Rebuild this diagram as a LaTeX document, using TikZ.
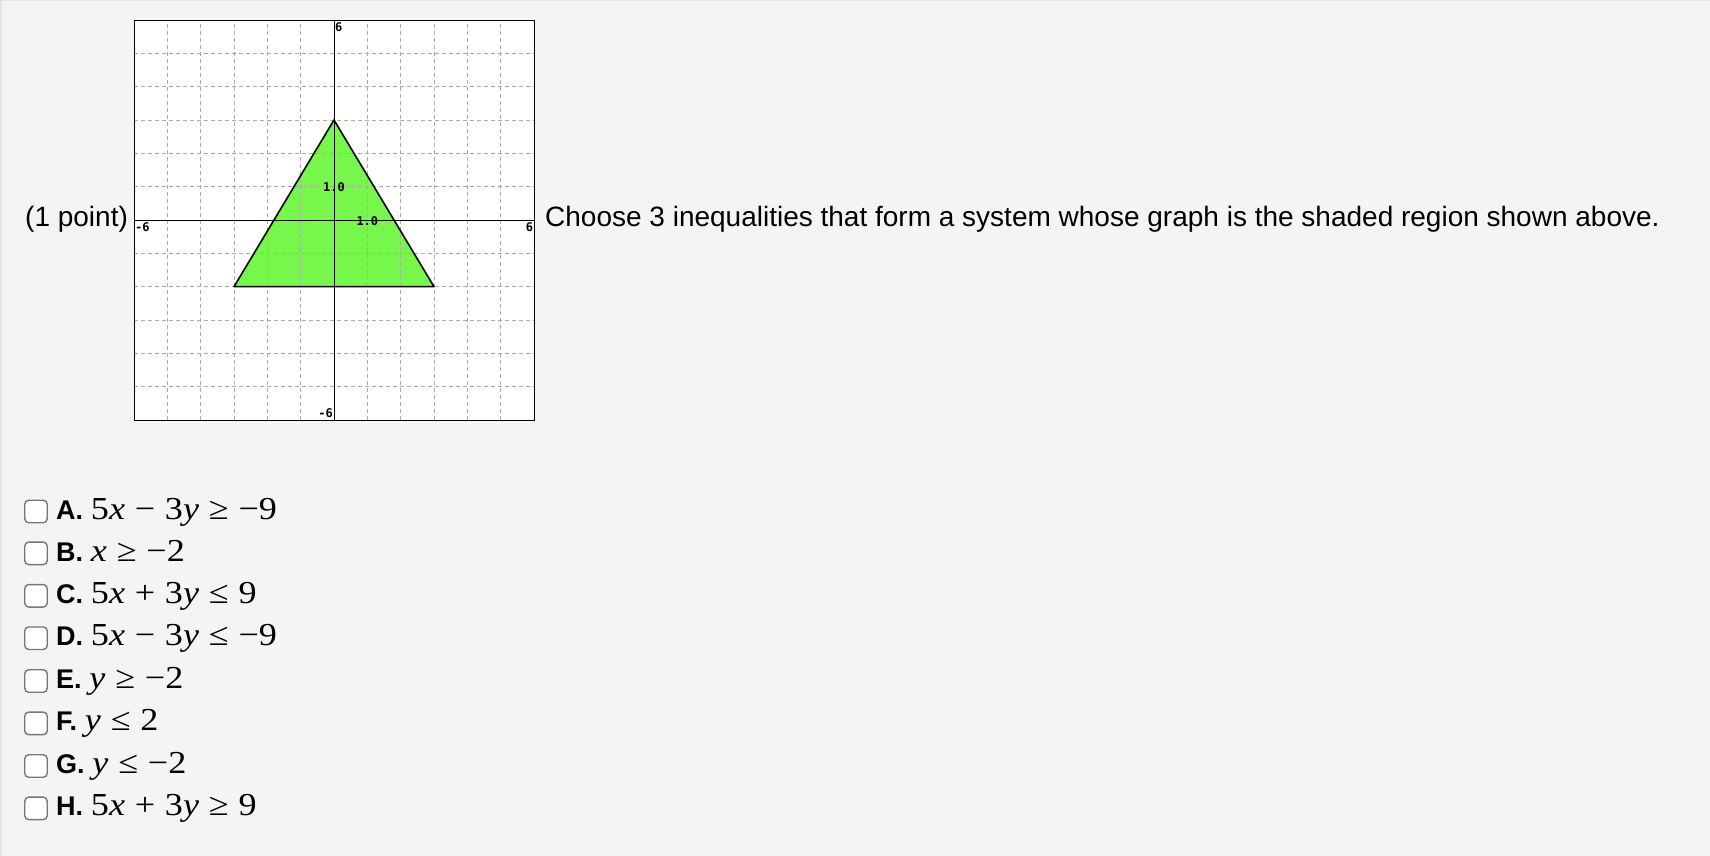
\documentclass[tikz,border=0pt]{standalone}
\usepackage{fontspec}
\usepackage{graphicx}
\setmainfont{Liberation Sans}
\setmonofont{DejaVu Sans Mono}
\newfontfamily\mser{Liberation Serif}
\definecolor{bgc}{HTML}{F4F4F4}
\definecolor{bordc}{HTML}{E4E4E4}
\definecolor{trig}{HTML}{77F74B}
\definecolor{gridc}{HTML}{AAAAAA}
\definecolor{boxc}{HTML}{767676}
\newcommand\lbl[1]{{\fontsize{27pt}{30pt}\selectfont\bfseries #1}}
\newcommand\fm[1]{\scalebox{1.13}[1]{\fontsize{32pt}{35pt}\selectfont\mser #1}}
\newcommand\vx{\textit{x}}
\newcommand\vy{\textit{y}}
\newcommand\mybop[1]{\hspace{0.27em}#1\hspace{0.27em}}
\newcommand\myrel[1]{\hspace{0.27em}#1\hspace{0.27em}}
\tikzset{
  chk/.style={draw=boxc, line width=1.4pt, rounded corners=4pt, fill=white, minimum size=22.5pt, inner sep=0pt},
  choice/.style={anchor=base west, inner sep=0pt, font=\fontsize{28pt}{32pt}\selectfont},
  bigtxt/.style={anchor=base west, inner sep=0pt, font=\fontsize{28pt}{32pt}\selectfont},
  glab/.style={inner sep=0pt, font=\fontsize{12pt}{12pt}\selectfont\ttfamily\bfseries},
  gridl/.style={gridc, line width=1pt, dash pattern=on 4pt off 3pt},
  axisl/.style={black, line width=1pt},
  triline/.style={black, line width=1.6pt, line join=round},
}
\begin{document}
\begin{tikzpicture}[x=1pt,y=-1pt]
\useasboundingbox (0,0) rectangle (1710,856);
\fill[bgc] (0,0) rectangle (1710,856);
\draw[bordc, line width=1.5pt] (0,0.75) -- (1710,0.75);
\draw[bordc, line width=1.5pt] (0.75,0) -- (0.75,856);

% graph
\begin{scope}[shift={(334,220)}, x=33.333pt, y=33.333pt]
  \fill[white] (-6,-6) rectangle (6,6);
  \fill[trig] (-3,-2) -- (0,3) -- (3,-2) -- cycle;
  \foreach \k in {-5,-4,-3,-2,-1,1,2,3,4,5} {
    \draw[gridl] (\k,-6) -- (\k,6);
    \draw[gridl] (-6,\k) -- (6,\k);
  }
  \draw[axisl] (-6,0) -- (6,0);
  \draw[axisl] (0,-6) -- (0,6);
  \draw[triline] (-3,-2) -- (0,3) -- (3,-2) -- cycle;
  \draw[black, line width=1pt] (-6,-6) rectangle (6,6);
  \node[glab, anchor=base west] (ytop) at (0.03,5.67) {6};
  \node[glab, anchor=base west] (xleft) at (-5.97,-0.33) {-6};
  \node[glab, anchor=base east] (xright) at (5.98,-0.33) {6};
  \node[glab, anchor=base east] (ybot) at (-0.03,-5.91) {-6};
  \node[glab, anchor=base] (yone) at (0,0.87) {1.0};
  \node[glab, anchor=base] (xone) at (1,-0.15) {1.0};
\end{scope}

\node[bigtxt] (pt) at (25,226) {(1 point)};
\node[bigtxt] (q) at (545,226) {Choose 3 inequalities that form a system whose graph is the shaded region shown above.};

% choices
\node[chk] (bA) at (36,511.5) {};
\node[chk] (bB) at (36,553.4) {};
\node[chk] (bC) at (36,595.8) {};
\node[chk] (bD) at (36,638.2) {};
\node[chk] (bE) at (36,681) {};
\node[chk] (bF) at (36,723.4) {};
\node[chk] (bG) at (36,766) {};
\node[chk] (bH) at (36,808.4) {};

\node[choice] (cA) at (56,519) {\lbl{A.} \fm{5\vx\mybop{−}3\vy\myrel{≥}−9}};
\node[choice] (cB) at (56,561) {\lbl{B.} \fm{\vx\myrel{≥}−2}};
\node[choice] (cC) at (56,603.3) {\lbl{C.} \fm{5\vx\mybop{+}3\vy\myrel{≤}9}};
\node[choice] (cD) at (56,645.7) {\lbl{D.} \fm{5\vx\mybop{−}3\vy\myrel{≤}−9}};
\node[choice] (cE) at (56,688.5) {\lbl{E.} \fm{\vy\myrel{≥}−2}};
\node[choice] (cF) at (56,730.9) {\lbl{F.} \fm{\vy\myrel{≤}2}};
\node[choice] (cG) at (56,773.5) {\lbl{G.} \fm{\vy\myrel{≤}−2}};
\node[choice] (cH) at (56,815.9) {\lbl{H.} \fm{5\vx\mybop{+}3\vy\myrel{≥}9}};
\end{tikzpicture}
\end{document}
